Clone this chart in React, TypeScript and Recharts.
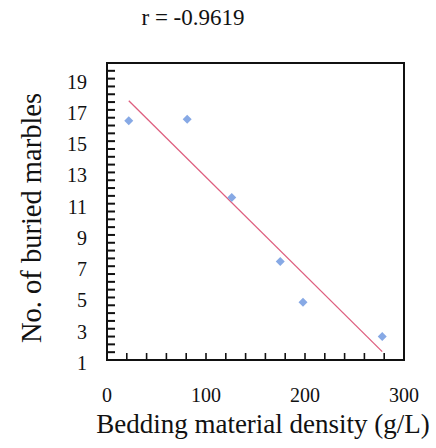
import React from 'react';
import { ScatterChart, Scatter, XAxis, YAxis, ReferenceArea } from 'recharts';

// values
const densities = [22, 81, 126, 175, 198, 278];
const marbles = [16.3, 16.4, 11.4, 7.3, 4.7, 2.5];

const xTicks = [0, 20, 40, 60, 80, 100, 120, 140, 160, 180, 200, 220, 240, 260, 280, 300];
const xLabels = [0, 100, 200, 300];
const yTicks = [
  1, 1.5, 2, 2.5, 3, 3.5, 4, 4.5, 5, 5.5, 6, 6.5, 7, 7.5, 8, 8.5, 9, 9.5, 10, 10.5,
  11, 11.5, 12, 12.5, 13, 13.5, 14, 14.5, 15, 15.5, 16, 16.5, 17, 17.5, 18, 18.5, 19, 19.5, 20,
];
const yLabels = [1, 3, 5, 7, 9, 11, 13, 15, 17, 19];

const points = densities.map((x, i) => ({ x, y: marbles[i] }));
// inner tick marks on the left edge (x = domain min)
const yMarks = yTicks.filter((v) => v !== 1 && v !== 20).map((v) => ({ x: 0, y: v }));

const FONT = '"Liberation Serif", "DejaVu Serif", serif';

const XTick = (props: any) => {
  const { x, y, payload } = props;
  const v = payload.value;
  return (
    <g>
      {v !== 0 && v !== 300 && <line x1={x} y1={y} x2={x} y2={y - 7} stroke="#111" strokeWidth={1.6} />}
      {xLabels.includes(v) && (
        <text x={x} y={y + 42} textAnchor="middle" fontSize={20} fontFamily={FONT} fill="#111">
          {v}
        </text>
      )}
    </g>
  );
};

const YTick = (props: any) => {
  const { x, y, payload } = props;
  const v = Number(payload.value);
  if (!yLabels.includes(v)) return <g />;
  return (
    <text x={Number(x) - 20} y={Number(y) + 10} textAnchor="end" fontSize={20} fontFamily={FONT} fill="#111">
      {v}
    </text>
  );
};

const TickMark = (props: any) => {
  const { cx, cy } = props;
  return <rect x={cx} y={cy - 1} width={8} height={2} fill="#111" />;
};

const Diamond = (props: any) => {
  const { cx, cy } = props;
  const r = 4.5;
  return (
    <polygon
      points={`${cx},${cy - r} ${cx + r},${cy} ${cx},${cy + r} ${cx - r},${cy}`}
      fill="#87a9e5"
    />
  );
};

export default function App() {
  return (
    <div style={{ position: 'absolute', left: 0, top: 0, width: 436, height: 448, background: '#fff' }}>
      <ScatterChart width={436} height={448} margin={{ top: 63, right: 32, bottom: 0, left: 0 }}>
        <ReferenceArea x1={0} x2={300} y1={1} y2={20} fill="none" stroke="#111" strokeWidth={2} ifOverflow="visible" />
        <XAxis
          type="number"
          dataKey="x"
          domain={[0, 300]}
          ticks={xTicks}
          interval={0}
          tickSize={0}
          tickMargin={0}
          axisLine={false}
          tickLine={false}
          height={88}
          tick={<XTick />}
        />
        <YAxis
          type="number"
          dataKey="y"
          domain={[1, 20]}
          ticks={yTicks}
          interval={0}
          tickSize={0}
          tickMargin={0}
          axisLine={false}
          tickLine={false}
          width={107}
          tick={<YTick />}
        />
        <Scatter data={yMarks} shape={<TickMark />} isAnimationActive={false} />
        <Scatter
          data={points}
          shape={<Diamond />}
          line={{ stroke: '#de5f7f', strokeWidth: 1.3 }}
          lineType="fitting"
          isAnimationActive={false}
        />
        <text x={193} y={25} textAnchor="middle" fontSize={23} fontFamily={FONT} fill="#111">
          r = -0.9619
        </text>
        <text x={263} y={433} textAnchor="middle" fontSize={27} fontFamily={FONT} fill="#111">
          Bedding material density (g/L)
        </text>
        <text
          x={41}
          y={218}
          textAnchor="middle"
          fontSize={28.5}
          fontFamily={FONT}
          fill="#111"
          transform="rotate(-90 41 218)"
        >
          No. of buried marbles
        </text>
      </ScatterChart>
    </div>
  );
}
